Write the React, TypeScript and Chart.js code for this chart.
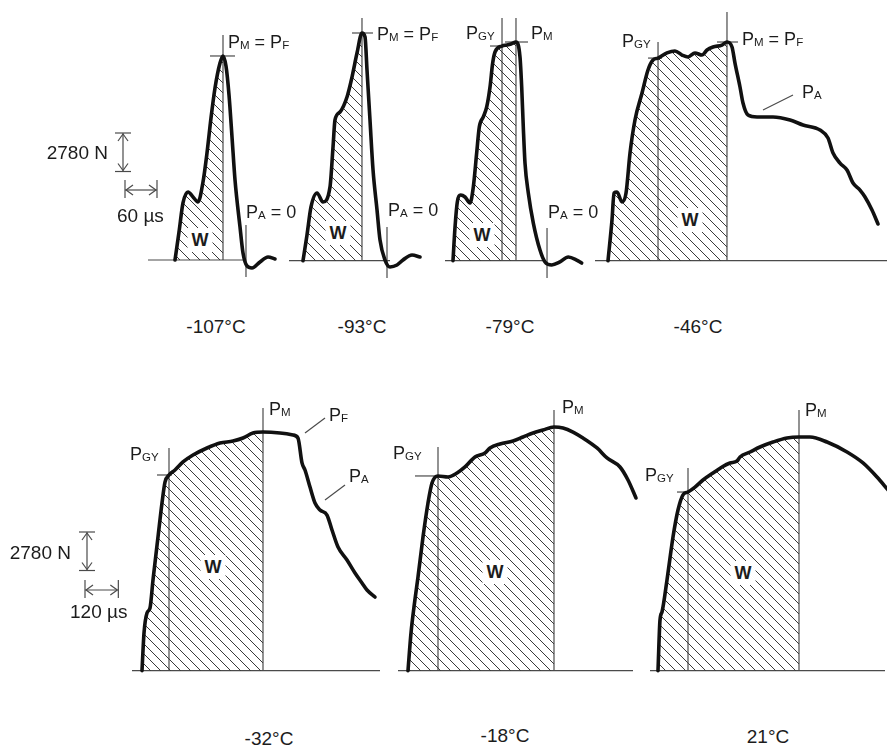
import React, { useEffect, useRef } from "react";
import { Chart, registerables } from "chart.js";
Chart.register(...registerables);

// ---------- DATA (time in µs, force in kN) ----------
const TEMPS = ["-107°C", "-93°C", "-79°C", "-46°C", "-32°C", "-18°C", "21°C"];

const T_M107 = [0, 7.5, 15, 24.4, 33.8, 43.1, 52.5, 60, 67.5, 75, 84.4, 90, 95.6, 101.3, 106.9, 112.5, 121.9, 127.5, 135, 144.4, 159.4, 174.4, 187.5];
const F_M107 = [0, 2.02, 4.12, 4.91, 4.55, 4.19, 5.63, 7.73, 10.25, 12.42, 14.22, 14.73, 14.01, 11.91, 8.88, 5.78, 2.38, 0.51, -0.43, -0.58, -0.14, 0.22, 0.07];

const T_M93 = [0, 7.5, 15, 26.3, 37.5, 50.6, 56.3, 60, 69.4, 82.5, 91.9, 101.3, 110.6, 116.3, 120, 125.6, 131.3, 138.8, 144.4, 153.8, 163.1, 176.3, 187.5, 204.4, 219.4];
const F_M93 = [0, 1.86, 3.88, 4.89, 4.24, 5.32, 8.21, 10.16, 10.74, 11.82, 13.26, 15.0, 16.44, 16.15, 13.77, 10.16, 6.55, 3.66, 1.49, 0.05, -0.45, -0.31, 0.05, 0.41, 0.27];

const T_M79 = [0, 3.8, 8.1, 14.4, 22.5, 31.9, 38.1, 44.4, 49.3, 56.8, 63.2, 69.4, 74.4, 78.8, 91.9, 101.3, 108.8, 118.1, 125.6, 128.8, 131.8, 135, 141.2, 150.6, 163.1, 172.5, 185.1, 200.6, 216.2, 231.9, 241.3];
const F_M79 = [0, 2.43, 4.24, 4.74, 4.6, 4.17, 5.32, 7.78, 9.65, 10.38, 11.1, 12.54, 14.27, 15.07, 15.5, 15.57, 15.65, 15.79, 14.71, 12.54, 9.65, 7.05, 4.89, 2.72, 0.77, -0.09, -0.31, -0.09, 0.27, 0.05, -0.17];

const T_M46 = [0, 7.5, 11.3, 16.9, 26.3, 33.8, 41.3, 50.6, 63.8, 75, 84.4, 93.8, 110.6, 125.6, 138.8, 150, 163.1, 176.3, 185.6, 196.9, 213.8, 223.1, 232.5, 238.1, 247.5, 253.1, 262.5, 279.4, 309.4, 341.3, 365.6, 397.5, 412.5, 421.9, 435, 448.1, 459.4, 472.5, 481.9, 495, 506.3];
const F_M46 = [0, 2.94, 4.89, 4.96, 4.24, 4.89, 7.78, 10.16, 12.11, 13.77, 14.49, 14.63, 15.0, 15.14, 14.85, 14.71, 15.0, 14.85, 15.21, 15.43, 15.57, 15.79, 15.43, 14.27, 12.54, 11.39, 10.52, 10.38, 10.38, 10.16, 9.8, 9.44, 8.86, 7.78, 7.05, 6.55, 5.61, 5.1, 4.6, 3.66, 2.65];

const T_M32 = [0, 7.2, 18, 28.8, 39.6, 57.6, 72, 82.8, 97.2, 118.8, 147.6, 183.6, 234, 280.8, 327.6, 363.6, 399.6, 435.6, 496.8, 543.6, 561.6, 576, 586.8, 604.8, 622.8, 640.8, 666, 684, 705.6, 738, 766.8, 792, 810, 838.8];
const F_M32 = [0, 2.72, 4.17, 4.53, 6.55, 9.65, 12.11, 13.62, 14.13, 14.49, 15.07, 15.57, 16.08, 16.44, 16.58, 16.8, 17.16, 17.23, 17.16, 17.02, 16.8, 15.0, 14.49, 13.26, 12.11, 11.6, 11.24, 10.16, 8.93, 7.99, 7.05, 6.33, 5.83, 5.32];

const T_M18 = [0, 10.8, 21.6, 36, 54, 72, 86.4, 108, 144, 176.4, 205.2, 241.2, 277.2, 295.2, 331.2, 378, 414, 450, 486, 525.6, 558, 594, 630, 680.4, 716.4, 763.2, 792, 820.8];
const F_M18 = [0, 2.72, 4.6, 6.77, 9.65, 12.11, 13.55, 14.06, 13.99, 14.27, 14.71, 15.43, 15.72, 16.08, 16.37, 16.58, 16.87, 17.16, 17.38, 17.59, 17.52, 17.23, 16.8, 16.08, 15.36, 14.71, 13.77, 12.47];

const T_P21 = [0, 7.2, 14.4, 32.4, 54, 72, 90, 108, 133.2, 162, 198, 230.4, 259.2, 284.4, 295.2, 331.2, 367.2, 414, 464.4, 507.6, 547.2, 608.4, 680.4, 738, 788.4, 828];
const F_P21 = [0, 3.66, 4.24, 6.55, 9.65, 11.6, 12.69, 12.9, 13.26, 13.77, 14.27, 14.71, 15.0, 15.14, 15.43, 15.79, 16.15, 16.51, 16.8, 16.87, 16.87, 16.51, 15.79, 15.0, 13.98, 13.05];

const TIMES = [T_M107, T_M93, T_M79, T_M46, T_M32, T_M18, T_P21];
const FORCES = [F_M107, F_M93, F_M79, F_M46, F_M32, F_M18, F_P21];

// characteristic points
const PM_T = [90, 110.6, 118.1, 223.1, 435.6, 525.6, 507.6];
const PM_F = [14.73, 16.44, 15.79, 15.79, 17.23, 17.59, 16.87];
const PGY_T: (number | null)[] = [null, null, 91.9, 93.8, 97.2, 108, 108];
const PGY_F: (number | null)[] = [null, null, 15.5, 14.63, 14.13, 14.06, 12.9];
const PA0_T: (number | null)[] = [133.1, 157.5, 176.3, null, null, null, null];

// scale bars
const BAR_FORCE = 2.78; // kN = 2780 N
const BAR_TIME_TOP = 60; // µs
const BAR_TIME_BOTTOM = 120; // µs

// ---------- LAYOUT (pixels) ----------
const KY = 0.0722; // kN per px
type Lay = {
  left: number; top: number; w: number; h: number; x0: number; y0: number; kx: number;
  base: [number, number]; pmTop: number; pmTick: [number, number] | null;
  gyTop?: number; gyTick?: [number, number] | null; pa0?: [number, number];
  leaders?: number[][]; bar?: { vx: number; vy: number; hx: number; hy: number; t: number };
};
const LAYOUT: Lay[] = [
  { left: 100, top: 10, w: 185, h: 280, x0: 175, y0: 260, kx: 1.875, base: [148, 245], pmTop: 35, pmTick: [-13, 12], pa0: [225, 277], bar: { vx: 123, vy: 133, hx: 125, hy: 190, t: BAR_TIME_TOP } },
  { left: 285, top: 10, w: 145, h: 280, x0: 303, y0: 260.7, kx: 1.875, base: [289, 390], pmTop: 18, pmTick: [-10, 11], pa0: [227, 278] },
  { left: 440, top: 10, w: 150, h: 280, x0: 453, y0: 260.7, kx: 1.875, base: [445, 546], pmTop: 18, pmTick: [-11, 12], gyTop: 18, gyTick: [-12, 1], pa0: [228, 278] },
  { left: 590, top: 10, w: 297, h: 280, x0: 608, y0: 260.7, kx: 1.875, base: [595, 887], pmTop: 12, pmTick: [-10, 11], gyTop: 42, gyTick: [-10, 4], leaders: [[763, 110, 793, 95]] },
  { left: 60, top: 400, w: 328, h: 290, x0: 142, y0: 670.7, kx: 3.6, base: [132, 380], pmTop: 408, pmTick: null, gyTop: 448, gyTick: [-12, 3], leaders: [[305, 433, 325, 418], [325, 500, 345, 485]], bar: { vx: 87, vy: 532, hx: 85, hy: 590, t: BAR_TIME_BOTTOM } },
  { left: 390, top: 400, w: 252, h: 290, x0: 408, y0: 670.7, kx: 3.6, base: [398, 633], pmTop: 410, pmTick: null, gyTop: 447, gyTick: [-23, 0] },
  { left: 645, top: 400, w: 242, h: 290, x0: 658, y0: 670.7, kx: 3.6, base: [650, 885], pmTop: 410, pmTick: null, gyTop: 468, gyTick: [-11, 1] },
];

const LINE = "#4a4a4a";

function makeHatch(): CanvasPattern | string {
  const s = 10;
  const c = document.createElement("canvas");
  c.width = s; c.height = s;
  const g = c.getContext("2d");
  if (!g) return "rgba(0,0,0,0.2)";
  g.strokeStyle = "#3a3a3a";
  g.lineWidth = 1;
  for (const k of [-s, 0, s]) {
    g.beginPath(); g.moveTo(k, 0); g.lineTo(k + s, s); g.stroke();
  }
  return g.createPattern(c, "repeat") || "rgba(0,0,0,0.2)";
}

function decor(i: number) {
  const L = LAYOUT[i];
  return {
    id: "decor" + i,
    beforeDatasetsDraw(chart: any) {
      const ctx = chart.ctx as CanvasRenderingContext2D;
      const xs = chart.scales.x, ys = chart.scales.y;
      const X = (t: number) => xs.getPixelForValue(t);
      const Y = (f: number) => ys.getPixelForValue(f);
      const px = (x: number) => x - L.left;
      const py = (y: number) => y - L.top;
      const seg = (a: number, b: number, c: number, d: number) => { ctx.beginPath(); ctx.moveTo(a, b); ctx.lineTo(c, d); ctx.stroke(); };
      ctx.save();
      ctx.strokeStyle = LINE;
      ctx.lineWidth = 1.2;
      // baseline (zero force)
      seg(px(L.base[0]), Y(0), px(L.base[1]), Y(0));
      // P_M
      const xm = X(PM_T[i]);
      seg(xm, py(L.pmTop), xm, Y(0));
      if (L.pmTick) seg(xm + L.pmTick[0], Y(PM_F[i]), xm + L.pmTick[1], Y(PM_F[i]));
      // P_GY
      const gt = PGY_T[i], gf = PGY_F[i];
      if (gt !== null && gf !== null && L.gyTop !== undefined) {
        const xg = X(gt);
        seg(xg, py(L.gyTop), xg, Y(0));
        if (L.gyTick) seg(xg + L.gyTick[0], Y(gf), xg + L.gyTick[1], Y(gf));
      }
      // P_A = 0
      const pa = PA0_T[i];
      if (pa !== null && L.pa0) seg(X(pa), py(L.pa0[0]), X(pa), py(L.pa0[1]));
      // leaders
      (L.leaders || []).forEach((l) => seg(px(l[0]), py(l[1]), px(l[2]), py(l[3])));
      // scale bars
      if (L.bar) {
        const b = L.bar;
        const vx = px(b.vx), vy1 = py(b.vy);
        const vy2 = vy1 + (Y(0) - Y(BAR_FORCE));
        seg(vx, vy1, vx, vy2);
        seg(vx - 8, vy1, vx + 8, vy1);
        seg(vx - 8, vy2, vx + 8, vy2);
        seg(vx - 5, vy1 + 8, vx, vy1 + 1); seg(vx + 5, vy1 + 8, vx, vy1 + 1);
        seg(vx - 5, vy2 - 8, vx, vy2 - 1); seg(vx + 5, vy2 - 8, vx, vy2 - 1);
        const hy = py(b.hy), hx1 = px(b.hx);
        const hx2 = hx1 + (X(b.t) - X(0));
        seg(hx1, hy, hx2, hy);
        seg(hx1, hy - 10, hx1, hy + 8);
        seg(hx2, hy - 10, hx2, hy + 8);
        seg(hx1 + 8, hy - 5, hx1 + 1, hy); seg(hx1 + 8, hy + 5, hx1 + 1, hy);
        seg(hx2 - 8, hy - 5, hx2 - 1, hy); seg(hx2 - 8, hy + 5, hx2 - 1, hy);
      }
      ctx.restore();
    },
  };
}

function Panel({ i }: { i: number }) {
  const ref = useRef<HTMLCanvasElement>(null);
  const L = LAYOUT[i];
  useEffect(() => {
    if (!ref.current) return;
    const pts = TIMES[i].map((t, k) => ({ x: t, y: FORCES[i][k] }));
    const pmIdx = TIMES[i].indexOf(PM_T[i]);
    const hatchPts = pts.slice(0, pmIdx + 1);
    const chart = new Chart(ref.current, {
      type: "line",
      data: {
        datasets: [
          { data: hatchPts, fill: "origin", backgroundColor: makeHatch() as any, borderWidth: 0, pointRadius: 0, cubicInterpolationMode: "monotone", order: 2 },
          { data: pts, fill: false, borderColor: "#111", borderWidth: 3.6, pointRadius: 0, cubicInterpolationMode: "monotone", borderCapStyle: "round", borderJoinStyle: "round", order: 1 },
        ],
      },
      options: {
        responsive: false,
        animation: false,
        events: [],
        layout: { padding: 0 },
        plugins: { legend: { display: false }, tooltip: { enabled: false } },
        scales: {
          x: { type: "linear", display: false, min: (L.left - L.x0) * L.kx, max: (L.left + L.w - L.x0) * L.kx },
          y: { type: "linear", display: false, min: (L.y0 - L.top - L.h) * KY, max: (L.y0 - L.top) * KY },
        },
      },
      plugins: [decor(i)],
    } as any);
    return () => chart.destroy();
  }, [i]);
  return <canvas ref={ref} width={L.w} height={L.h} style={{ position: "absolute", left: L.left, top: L.top }} />;
}

const Sub = ({ children }: { children: React.ReactNode }) => (
  <span style={{ fontSize: "0.64em", position: "relative", top: "0.12em" }}>{children}</span>
);

function T({ x, y, size = 18, align = "left", bold = false, bg = false, children }: any) {
  const tx = align === "center" ? "-50%" : align === "right" ? "-100%" : "0";
  return (
    <div
      style={{
        position: "absolute", left: x, top: y - size / 2, fontSize: size, lineHeight: `${size}px`,
        whiteSpace: "nowrap", transform: `translateX(${tx})`, fontWeight: bold ? 700 : 400,
        background: bg ? "#fff" : "transparent", padding: bg ? "3px 4px" : 0, marginTop: bg ? -3 : 0,
      }}
    >
      {children}
    </div>
  );
}

const PMPF = () => (<>P<Sub>M</Sub> = P<Sub>F</Sub></>);
const PA0 = () => (<>P<Sub>A</Sub> = 0</>);

export default function App() {
  return (
    <div style={{ position: "absolute", left: 0, top: 0, width: 887, height: 746, background: "#fff", overflow: "hidden", fontFamily: '"Liberation Sans", Arial, sans-serif', color: "#1c1c1c" }}>
      {LAYOUT.map((_, i) => <Panel key={i} i={i} />)}

      {/* top row labels */}
      <T x={228} y={42}><PMPF /></T>
      <T x={377} y={34}><PMPF /></T>
      <T x={466} y={33}>P<Sub>GY</Sub></T>
      <T x={531} y={33}>P<Sub>M</Sub></T>
      <T x={622} y={41}>P<Sub>GY</Sub></T>
      <T x={742} y={39}><PMPF /></T>
      <T x={802} y={92}>P<Sub>A</Sub></T>
      <T x={246} y={212}><PA0 /></T>
      <T x={388} y={210}><PA0 /></T>
      <T x={548} y={212}><PA0 /></T>

      {/* bottom row labels */}
      <T x={130} y={454}>P<Sub>GY</Sub></T>
      <T x={269} y={409}>P<Sub>M</Sub></T>
      <T x={329} y={415}>P<Sub>F</Sub></T>
      <T x={349} y={476}>P<Sub>A</Sub></T>
      <T x={393} y={453}>P<Sub>GY</Sub></T>
      <T x={562} y={407}>P<Sub>M</Sub></T>
      <T x={645} y={475}>P<Sub>GY</Sub></T>
      <T x={805} y={410}>P<Sub>M</Sub></T>

      {/* W areas */}
      <T x={200} y={240} size={18} bold bg align="center">W</T>
      <T x={338} y={233} size={18} bold bg align="center">W</T>
      <T x={482} y={235} size={18} bold bg align="center">W</T>
      <T x={690} y={220} size={18} bold bg align="center">W</T>
      <T x={213} y={567} size={18} bold bg align="center">W</T>
      <T x={495} y={572} size={18} bold bg align="center">W</T>
      <T x={743} y={573} size={18} bold bg align="center">W</T>

      {/* scale bar labels */}
      <T x={108} y={152} size={19} align="right">2780 N</T>
      <T x={117} y={215} size={19}>60 µs</T>
      <T x={71} y={552} size={19} align="right">2780 N</T>
      <T x={70} y={611} size={19}>120 µs</T>

      {/* temperatures */}
      <T x={216} y={326} size={19} align="center">{TEMPS[0]}</T>
      <T x={362} y={326} size={19} align="center">{TEMPS[1]}</T>
      <T x={510} y={326} size={19} align="center">{TEMPS[2]}</T>
      <T x={698} y={326} size={19} align="center">{TEMPS[3]}</T>
      <T x={269} y={738} size={19} align="center">{TEMPS[4]}</T>
      <T x={505} y={735} size={19} align="center">{TEMPS[5]}</T>
      <T x={768} y={736} size={19} align="center">{TEMPS[6]}</T>
    </div>
  );
}
